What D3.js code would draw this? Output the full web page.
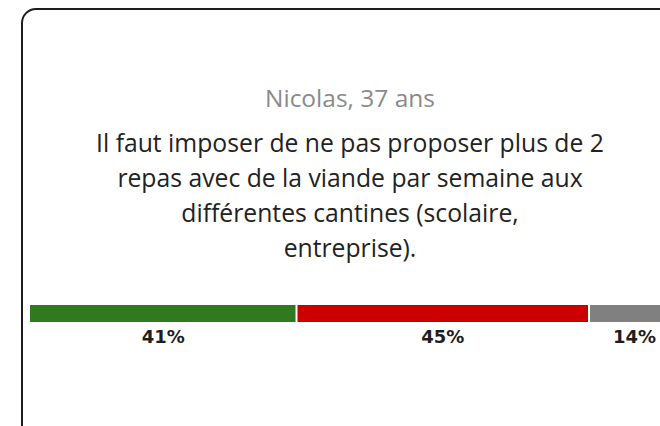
<!DOCTYPE html>
<html>
    <head>
        <meta charset="utf-8">
        <title>Sondage cantines</title>
        <style>
            body{
                margin: 0;
                background-color: white;
            }
            svg{
                display: block;
                background-color: white;
            }
        </style>
        <script src="https://d3js.org/d3.v7.min.js"></script>
    </head>
    <body>
    </body>
    <script>
        let width = 660
        let height = 426

        let author = "Nicolas, 37 ans"
        let statementLines = [
            "Il faut imposer de ne pas proposer plus de 2",
            "repas avec de la viande par semaine aux",
            "différentes cantines (scolaire,",
            "entreprise)."
        ]
        let answers = ["Pour", "Contre", "Sans avis"]
        let shares = [41, 45, 14]
        let answerColors = ["#2f7a1f", "#cc0000", "#808080"]

        let svg = d3.select("body")
                    .append("svg")
                    .attr("width", width)
                    .attr("height", height)

        // card outline, runs off the right and bottom edges
        svg.append("rect")
            .attr("x", 22)
            .attr("y", 9)
            .attr("width", 700)
            .attr("height", 432)
            .attr("rx", 14)
            .attr("fill", "white")
            .attr("stroke", "#1c1c1c")
            .attr("stroke-width", 2)

        let centerX = 350
        let textFont = "'Open Sans', 'Noto Sans', sans-serif"

        // shrink or grow a text so it takes the given width
        let fitWidth = (sel, target) => {
            let size = +sel.attr("font-size")
            let len = sel.node().getComputedTextLength()
            return size * target / len
        }

        let authorText = svg.append("text")
            .text(author)
            .attr("x", centerX)
            .attr("y", 107)
            .attr("text-anchor", "middle")
            .attr("font-family", textFont)
            .attr("font-weight", 400)
            .attr("font-size", 18)
            .attr("fill", "#8a8a8a")
        authorText.attr("font-size", fitWidth(authorText, 170))

        let statement = svg.append("g")
        statement.selectAll("text")
            .data(statementLines)
            .enter()
            .append("text")
            .text((d) => d)
            .attr("x", centerX)
            .attr("y", (d, i) => 152 + i * 35)
            .attr("text-anchor", "middle")
            .attr("font-family", textFont)
            .attr("font-weight", 500)
            .attr("font-size", 21)
            .attr("fill", "#222")

        // fit the first line to the width it has in the card
        let fitSize = fitWidth(statement.select("text"), 508)
        statement.selectAll("text").attr("font-size", fitSize)

        // stacked share bar
        let segments = []
        let acc = 0
        shares.forEach((v, i) => {
            segments.push({answer: answers[i], value: v, start: acc, end: acc + v, color: answerColors[i]})
            acc += v
        })

        let xScale = d3.scaleLinear()
                        .domain([0, 100])
                        .range([30, 680])

        let barY = 305
        let barH = 17

        svg.selectAll(".segment")
            .data(segments)
            .enter()
            .append("rect")
            .attr("class", "segment")
            .attr("x", (d, i) => xScale(d.start) + (i > 0 ? 1 : 0))
            .attr("y", barY)
            .attr("width", (d, i) => xScale(d.end) - xScale(d.start) - (i > 0 ? 2 : 1))
            .attr("height", barH)
            .attr("fill", (d) => d.color)

        svg.selectAll(".share-label")
            .data(segments)
            .enter()
            .append("text")
            .attr("class", "share-label")
            .text((d) => d.value + "%")
            .attr("x", (d) => xScale((d.start + d.end) / 2))
            .attr("y", barY + barH + 21)
            .attr("text-anchor", "middle")
            .attr("font-family", "'DejaVu Sans', sans-serif")
            .attr("font-weight", "bold")
            .attr("font-size", 18)
            .attr("fill", "#1e1e1e")
    </script>
</html>
